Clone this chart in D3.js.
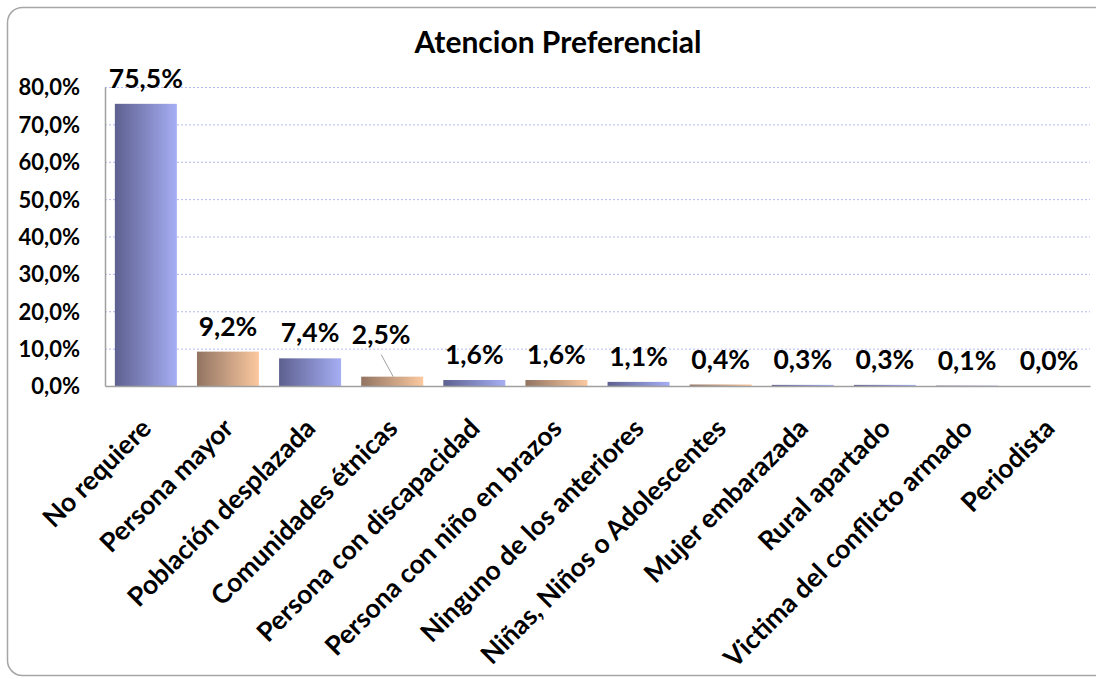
<!DOCTYPE html>
<html>
<head>
<meta charset="utf-8">
<script src="https://cdn.jsdelivr.net/npm/d3@7"></script>
<style>
  html, body { margin: 0; padding: 0; background: #fff; overflow: hidden; }
  svg { display: block; }
  svg text { font-family: "Lato", "Open Sans", sans-serif; font-weight: bold; fill: #000; }
</style>
</head>
<body>
<div id="chart"></div>
<script>
/* chart data */
const categories = [
  "No requiere", "Persona mayor", "Población desplazada", "Comunidades étnicas",
  "Persona con discapacidad", "Persona con niño en brazos", "Ninguno de los anteriores",
  "Niñas, Niños o Adolescentes", "Mujer embarazada", "Rural apartado",
  "Victima del conflicto armado", "Periodista"
];
const shares = [75.5, 9.2, 7.4, 2.5, 1.6, 1.6, 1.1, 0.4, 0.3, 0.3, 0.1, 0.0];
const yTicks = [0, 10, 20, 30, 40, 50, 60, 70, 80];
const chartTitle = "Atencion Preferencial";

document.addEventListener("DOMContentLoaded", function(){

  const width = 1096;
  const height = 679;
  const plot = {left: 105, right: 1090, top: 87, bottom: 386};

  /* bars drawn in the tan gradient, the rest are blue */
  const tanBars = new Set([1, 3, 5, 7]);

  const es = d3.formatLocale({decimal: ",", thousands: ".", grouping: [3], currency: ["", "€"]});
  const pct = es.format(".1%");

  const svg = d3.select("#chart")
    .append("svg")
    .attr("width", width)
    .attr("height", height);

  /* gradients */
  const defs = svg.append("defs");
  const grads = [
    {id: "gBlue", from: "#5d608f", to: "#a6aef4"},
    {id: "gTan", from: "#927462", to: "#fbc9a0"}
  ];
  grads.forEach(g => {
    const lg = defs.append("linearGradient").attr("id", g.id)
      .attr("x1", "0%").attr("x2", "100%").attr("y1", "0%").attr("y2", "0%");
    lg.append("stop").attr("offset", "0%").attr("stop-color", g.from);
    lg.append("stop").attr("offset", "100%").attr("stop-color", g.to);
  });

  /* frame (right side runs past the window) */
  svg.append("rect")
    .attr("x", 7.5).attr("y", 7.5)
    .attr("width", 1130).attr("height", 668)
    .attr("rx", 15).attr("ry", 15)
    .attr("fill", "#fff")
    .attr("stroke", "#a6a6a6")
    .attr("stroke-width", 1.5);

  const x = d3.scaleBand()
    .domain(categories)
    .range([plot.left, plot.right])
    .paddingInner(0.245)
    .paddingOuter(0.12);

  const y = d3.scaleLinear()
    .domain([0, 80])
    .range([plot.bottom, plot.top]);

  /* gridlines */
  svg.append("g")
    .selectAll("line")
    .data(yTicks.filter(t => t > 0))
    .join("line")
    .attr("x1", plot.left).attr("x2", plot.right)
    .attr("y1", d => y(d) + 0.5).attr("y2", d => y(d) + 0.5)
    .attr("stroke", "#b3b8ee")
    .attr("stroke-width", 1)
    .attr("stroke-dasharray", "2,2");

  /* y axis */
  const yAxis = svg.append("g")
    .attr("transform", `translate(${plot.left},0)`)
    .call(d3.axisLeft(y).tickValues(yTicks).tickSize(0).tickPadding(25)
      .tickFormat(d => pct(d / 100)));
  yAxis.select(".domain").attr("stroke", "#a0a0a0").attr("stroke-width", 1.5);
  yAxis.selectAll("text")
    .style("font-size", "22px")
    .attr("dy", "0.36em");

  /* bars */
  svg.append("g")
    .selectAll("rect")
    .data(shares)
    .join("rect")
    .attr("x", (d, i) => x(categories[i]))
    .attr("width", x.bandwidth())
    .attr("y", d => y(d))
    .attr("height", d => plot.bottom - y(d))
    .attr("fill", (d, i) => tanBars.has(i) ? "url(#gTan)" : "url(#gBlue)");

  /* x axis line */
  const xAxis = svg.append("g")
    .attr("transform", `translate(0,${plot.bottom})`)
    .call(d3.axisBottom(x).tickSize(0).tickPadding(0));
  xAxis.select(".domain").attr("stroke", "#a0a0a0").attr("stroke-width", 1.5);
  xAxis.selectAll("text")
    .style("font-size", "26.5px")
    .attr("text-anchor", "end")
    .attr("dy", 0)
    .attr("transform", "translate(7,44) rotate(-45)");

  /* value labels; the 2,5% one sits off its bar with a leader line */
  const moved = {3: {dx: -11, dy: -17}};
  const labels = svg.append("g");
  shares.forEach((v, i) => {
    const cx = x(categories[i]) + x.bandwidth() / 2;
    const off = moved[i] || {dx: 0, dy: 0};
    const ly = y(v) - 16 + off.dy;
    if (moved[i]) {
      labels.append("line")
        .attr("x1", cx + off.dx).attr("y1", ly + 11)
        .attr("x2", cx + 1).attr("y2", y(v))
        .attr("stroke", "#a0a0a0").attr("stroke-width", 1);
    }
    labels.append("text")
      .attr("x", cx + off.dx)
      .attr("y", ly)
      .attr("text-anchor", "middle")
      .style("font-size", "26.5px")
      .text(pct(v / 100));
  });

  /* title */
  svg.append("text")
    .text(chartTitle)
    .attr("x", 558)
    .attr("y", 53)
    .attr("text-anchor", "middle")
    .style("font-size", "30px");
});
</script>
</body>
</html>
